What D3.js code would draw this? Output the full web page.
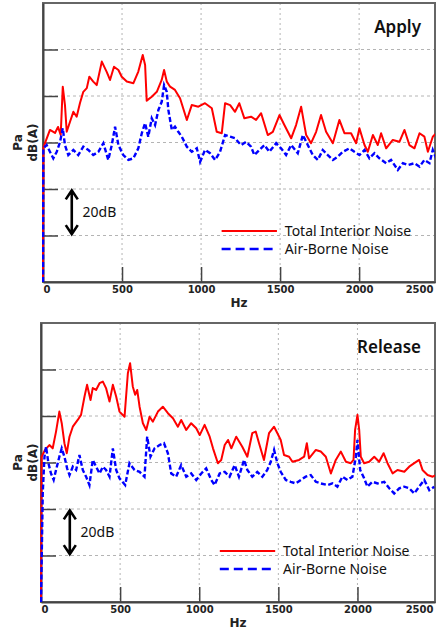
<!DOCTYPE html>
<html>
<head>
<meta charset="utf-8">
<script src="https://cdn.jsdelivr.net/npm/d3@7/dist/d3.min.js"></script>
<style>
  body { margin: 0; background: #fff; }
  svg { display: block; }
</style>
</head>
<body>
<div id="chart"></div>
<script>
// values, [Hz, dB(A)] - y has no labels, 20 dB per grid step
const xTicks = [0, 500, 1000, 1500, 2000, 2500];
const yGrid = [20, 40, 60, 80, 100];
const titles = ["Apply", "Release"];
const legendNames = ["Total Interior Noise", "Air-Borne Noise"];

const applyTotal = [[0,0],[3,58],[44,65.4],[76,64.1],[95,66.7],[112,63.2],[125,84.0],[139,76.1],[150,64.6],[171,68.9],[192,73.2],[213,71.1],[234,77.0],[255,81.8],[277,83.4],[293,88.3],[318,86.2],[340,84.7],[372,94.8],[403,90.4],[424,86.9],[449,92.6],[477,91.2],[498,88.3],[530,86.2],[572,85.5],[603,90.5],[631,97.6],[646,93.3],[656,78.0],[688,79.7],[720,81.8],[751,86.9],[766,91.2],[783,86.2],[804,84.0],[835,82.6],[867,79.0],[910,69.7],[941,76.1],[983,75.4],[1025,76.9],[1068,74.7],[1099,64.6],[1131,64.0],[1152,76.9],[1184,76.1],[1215,73.2],[1242,76.9],[1274,70.4],[1316,71.1],[1348,69.7],[1380,72.6],[1422,63.2],[1454,64.6],[1496,71.8],[1527,67.5],[1570,61.8],[1601,67.5],[1633,75.4],[1665,63.2],[1696,59.7],[1728,64.6],[1759,71.8],[1791,64.6],[1834,59.7],[1875,69.7],[1907,64.0],[1949,64.0],[1981,59.7],[2002,66.1],[2034,58.9],[2055,56.0],[2087,63.2],[2118,58.9],[2139,64.0],[2171,57.5],[2213,61.1],[2255,60.3],[2287,65.4],[2318,58.9],[2350,57.5],[2382,64.0],[2413,62.5],[2435,56.0],[2466,62.5],[2487,64.0]];

const applyAir = [[0,0],[2,57.5],[23,58.9],[44,56.0],[65,53.2],[87,56.0],[108,60.3],[125,66.1],[139,58.9],[160,54.6],[192,56.8],[223,54.6],[255,58.2],[287,56.8],[318,54.6],[350,56.0],[382,59.7],[413,52.5],[435,58.9],[456,66.8],[477,58.9],[508,54.6],[540,52.5],[572,53.2],[603,57.5],[625,64.0],[646,68.3],[666,62.5],[688,70.4],[709,67.5],[730,74.0],[751,77.5],[766,84.7],[783,81.8],[793,74.0],[815,65.4],[835,66.8],[856,64.6],[878,62.5],[910,58.2],[941,56.0],[973,57.5],[994,51.7],[1025,56.8],[1057,55.4],[1089,52.5],[1120,56.0],[1152,63.2],[1184,62.5],[1215,61.8],[1253,58.9],[1285,60.3],[1316,58.2],[1337,54.6],[1369,56.8],[1401,58.9],[1432,56.0],[1475,59.7],[1506,57.5],[1538,54.6],[1570,58.9],[1612,55.4],[1644,63.2],[1675,58.9],[1707,54.6],[1739,52.5],[1770,56.8],[1802,54.6],[1834,52.5],[1865,53.9],[1897,56.0],[1939,57.5],[1970,56.0],[2002,54.6],[2034,56.8],[2065,53.2],[2097,55.4],[2128,53.2],[2171,51.1],[2202,52.5],[2245,48.2],[2277,51.1],[2308,50.3],[2350,51.1],[2382,49.6],[2413,52.5],[2445,51.1],[2466,56.8],[2487,53.2]];

const releaseTotal = [[0,0],[4,62.5],[25,65.4],[53,67.5],[74,66.1],[95,73.3],[116,81.9],[131,76.9],[148,68.3],[163,64.0],[180,71.1],[201,75.4],[232,78.3],[253,80.5],[275,88.4],[291,93.4],[313,86.9],[327,92.0],[348,91.2],[370,94.1],[391,94.8],[411,92.0],[433,86.2],[454,93.4],[475,88.4],[496,81.9],[528,79.7],[549,98.4],[563,102.7],[580,92.7],[595,89.1],[608,91.2],[623,84.0],[644,76.9],[665,74.0],[686,79.7],[707,77.6],[739,81.9],[770,84.0],[802,81.2],[834,79.0],[865,75.4],[886,78.3],[918,74.0],[949,76.9],[981,74.7],[1003,71.8],[1034,76.2],[1066,71.1],[1087,66.1],[1118,59.7],[1139,61.1],[1161,67.5],[1182,69.7],[1203,66.1],[1234,71.1],[1272,66.8],[1304,62.5],[1335,72.6],[1357,73.3],[1378,68.3],[1409,61.1],[1441,72.6],[1473,75.4],[1494,72.6],[1515,69.7],[1536,63.2],[1568,62.5],[1589,60.3],[1631,61.1],[1663,62.5],[1680,68.3],[1694,61.8],[1737,65.4],[1768,64.7],[1800,62.5],[1832,55.3],[1863,61.1],[1895,64.7],[1927,60.3],[1958,59.7],[1975,61.1],[1985,74.0],[2000,80.5],[2011,74.0],[2021,62.5],[2042,59.7],[2074,60.3],[2106,62.5],[2137,60.3],[2165,64.0],[2190,59.7],[2222,55.3],[2253,56.8],[2296,56.0],[2327,58.2],[2359,59.7],[2390,61.1],[2411,56.8],[2443,54.6],[2475,53.9],[2496,54.6]];

const releaseAir = [[0,0],[11,46.7],[22,62.5],[32,66.8],[47,59.7],[63,55.3],[80,52.5],[95,56.8],[116,62.5],[131,66.1],[148,62.5],[165,57.5],[180,54.6],[201,58.2],[222,56.8],[243,63.2],[264,56.8],[285,53.9],[306,50.3],[327,61.1],[348,58.2],[370,55.3],[391,58.2],[411,56.8],[433,53.9],[454,66.1],[475,56.8],[496,53.2],[532,50.3],[559,59.7],[591,56.8],[623,56.0],[654,53.9],[671,71.1],[692,62.5],[718,66.1],[749,67.5],[777,68.3],[802,64.0],[823,55.3],[854,53.9],[886,58.9],[918,53.9],[949,55.3],[981,52.5],[1013,55.3],[1044,57.5],[1076,52.5],[1097,50.3],[1129,55.3],[1161,56.0],[1192,53.9],[1224,58.9],[1251,53.9],[1283,61.1],[1304,56.8],[1335,53.9],[1367,56.0],[1399,53.9],[1430,56.8],[1452,60.3],[1473,65.4],[1494,59.7],[1515,56.0],[1547,52.5],[1578,51.7],[1610,51.0],[1642,52.5],[1673,53.9],[1705,54.6],[1737,51.7],[1768,51.0],[1810,50.3],[1842,51.0],[1873,49.6],[1905,53.9],[1937,52.5],[1968,53.9],[1990,62.5],[2000,69.7],[2017,56.8],[2042,53.2],[2063,49.6],[2095,51.7],[2127,51.0],[2169,51.7],[2201,48.9],[2232,46.7],[2264,48.9],[2296,49.6],[2327,48.9],[2359,46.7],[2390,49.6],[2422,52.5],[2454,48.1],[2485,49.6]];

const width = 440, height = 633;
const panels = [
  { title: titles[0], total: applyTotal, air: applyAir, left: 43, top: 3, right: 435, bottom: 282, fmax: 2480 },
  { title: titles[1], total: releaseTotal, air: releaseAir, left: 41, top: 323, right: 435, bottom: 602, fmax: 2490 }
];

const red = "#ff0000", blue = "#0000ff";
const tickFont = "'DejaVu Sans', Verdana, sans-serif";
const textFont = "'Noto Sans', 'Open Sans', sans-serif";

const svg = d3.select("#chart").append("svg")
  .attr("width", width)
  .attr("height", height);

panels.forEach((p, i) => {
  const x = d3.scaleLinear().domain([0, p.fmax]).range([p.left, p.right]);
  const y = d3.scaleLinear().domain([0, 120]).range([p.bottom, p.top]);
  const g = svg.append("g");

  // grid
  g.selectAll("line.hgrid").data(yGrid).join("line")
    .attr("class", "hgrid")
    .attr("x1", p.left).attr("x2", p.right)
    .attr("y1", d => y(d)).attr("y2", d => y(d))
    .attr("stroke", "#b4b4b4").attr("stroke-width", 1)
    .attr("stroke-dasharray", "3,3");
  g.selectAll("line.vgrid").data(xTicks.filter(d => d > 0 && d < p.fmax)).join("line")
    .attr("class", "vgrid")
    .attr("x1", d => x(d)).attr("x2", d => x(d))
    .attr("y1", p.top).attr("y2", p.bottom)
    .attr("stroke", "#b4b4b4").attr("stroke-width", 1)
    .attr("stroke-dasharray", "2,3");

  // frame
  g.append("rect")
    .attr("x", p.left).attr("y", p.top)
    .attr("width", p.right - p.left).attr("height", p.bottom - p.top)
    .attr("fill", "none").attr("stroke", "#666").attr("stroke-width", 2);

  // axes, ticks point inward
  const xAxis = g.append("g")
    .attr("transform", `translate(0,${p.bottom})`)
    .call(d3.axisBottom(x).tickValues(xTicks).tickFormat(d3.format("d"))
      .tickSizeInner(-15).tickSizeOuter(0).tickPadding(4));
  xAxis.select(".domain").attr("stroke", "#444").attr("stroke-width", 2);
  xAxis.selectAll(".tick line")
    .attr("stroke", "#444").attr("stroke-width", 1.5)
    .attr("display", d => (d > 0 && d < p.fmax) ? null : "none");
  xAxis.selectAll(".tick text")
    .attr("fill", "#222")
    .style("font", `bold 10px ${tickFont}`)
    .attr("text-anchor", d => d === 0 ? "start" : (d > p.fmax ? "end" : "middle"))
    .attr("x", d => d > p.fmax ? (p.right - 2) - x(d) : 0);

  const yAxis = g.append("g")
    .attr("transform", `translate(${p.left},0)`)
    .call(d3.axisLeft(y).tickValues(yGrid).tickSizeInner(-15).tickSizeOuter(0).tickFormat(""));
  yAxis.select(".domain").attr("stroke", "#444").attr("stroke-width", 2);
  yAxis.selectAll(".tick line").attr("stroke", "#444").attr("stroke-width", 1.5);

  // curves
  const clipId = "clip" + i;
  svg.append("clipPath").attr("id", clipId).append("rect")
    .attr("x", p.left - 1).attr("y", p.top)
    .attr("width", p.right - p.left + 1).attr("height", p.bottom - p.top);
  const line = d3.line().x(d => x(d[0])).y(d => y(d[1]));
  const curves = g.append("g").attr("clip-path", `url(#${clipId})`);
  curves.append("path").datum(p.total)
    .attr("d", line).attr("fill", "none")
    .attr("stroke", red).attr("stroke-width", 2).attr("stroke-linejoin", "round");
  curves.append("path").datum(p.air)
    .attr("d", line).attr("fill", "none")
    .attr("stroke", blue).attr("stroke-width", 2.4)
    .attr("stroke-dasharray", "5,2.5");

  // title
  g.append("text")
    .attr("x", p.right - 14).attr("y", p.top + 30)
    .attr("text-anchor", "end")
    .style("font", `600 17px ${textFont}`)
    .attr("fill", "#111")
    .text(p.title);

  // axis titles
  g.append("text")
    .attr("x", (p.left + p.right) / 2).attr("y", p.bottom + 25)
    .attr("text-anchor", "middle")
    .style("font", `bold 12px ${tickFont}`)
    .attr("fill", "#222")
    .text("Hz");
  const yMid = (p.top + p.bottom) / 2;
  g.append("text")
    .attr("transform", `translate(22,${yMid}) rotate(-90)`)
    .attr("text-anchor", "middle")
    .style("font", `bold 12px ${tickFont}`)
    .attr("fill", "#222")
    .text("Pa");
  g.append("text")
    .attr("transform", `translate(37,${yMid}) rotate(-90)`)
    .attr("text-anchor", "middle")
    .style("font", `bold 12px ${tickFont}`)
    .attr("fill", "#222")
    .text("dB(A)");

  // 20 dB scale arrow
  const ax = x(182), ya = y(39.4), yb = y(20.6);
  g.append("path")
    .attr("d", `M${ax},${ya}V${yb}M${ax - 6},${ya + 9}L${ax},${ya}L${ax + 6},${ya + 9}M${ax - 6},${yb - 9}L${ax},${yb}L${ax + 6},${yb - 9}`)
    .attr("fill", "none").attr("stroke", "#000").attr("stroke-width", 2.6);
  g.append("text")
    .attr("x", x(250)).attr("y", y(30))
    .attr("dy", "0.35em")
    .style("font", `14px ${textFont}`)
    .attr("fill", "#111")
    .text("20dB");

  // legend
  const lx0 = x(1130), lx1 = x(1480), tx = x(1530);
  const ly = [p.bottom - 51, p.bottom - 33];
  g.append("line").attr("x1", lx0).attr("x2", lx1).attr("y1", ly[0]).attr("y2", ly[0])
    .attr("stroke", red).attr("stroke-width", 2.2);
  g.append("line").attr("x1", lx0).attr("x2", lx1).attr("y1", ly[1]).attr("y2", ly[1])
    .attr("stroke", blue).attr("stroke-width", 2.5).attr("stroke-dasharray", "9,5");
  legendNames.forEach((name, k) => {
    g.append("text")
      .attr("x", tx).attr("y", ly[k])
      .attr("dy", "0.36em")
      .style("font", `14px ${textFont}`)
      .attr("fill", "#111")
      .text(name);
  });
});
</script>
</body>
</html>
